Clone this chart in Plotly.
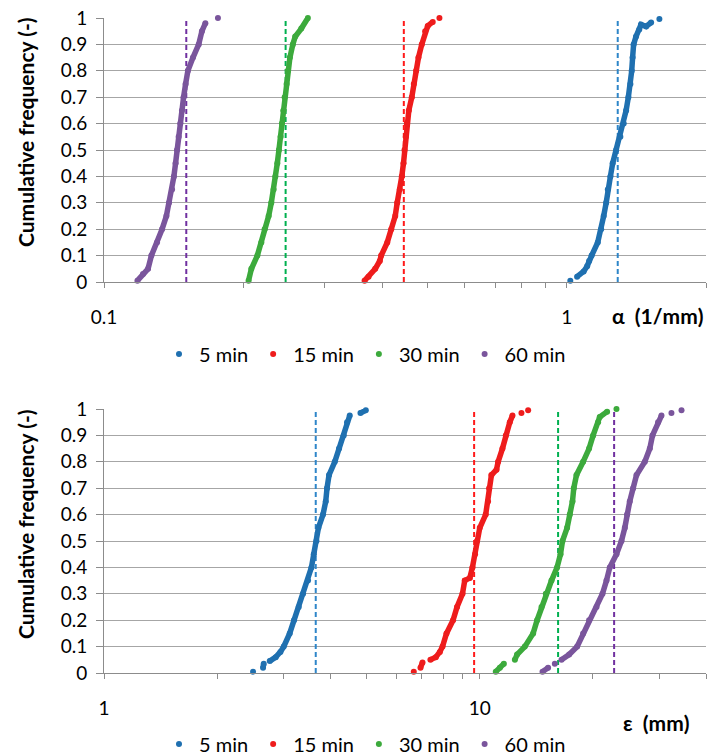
import numpy as np
import plotly.graph_objects as go

# ---------------- data ----------------
series_names = ["5 min", "15 min", "30 min", "60 min"]

# Top panel: alpha (1/mm), cumulative frequency
alpha_5_x = [1.018, 1.053, 1.088, 1.107, 1.118, 1.132, 1.167, 1.187, 1.202, 1.217, 1.227, 1.243, 1.257,
             1.279, 1.306, 1.328, 1.344, 1.359, 1.373, 1.382, 1.388, 1.395, 1.412, 1.435, 1.447, 1.485, 1.522, 1.586]
alpha_5_y = [0.005, 0.02, 0.04, 0.06, 0.08, 0.10, 0.15, 0.20, 0.25, 0.30, 0.35, 0.40, 0.45,
             0.50, 0.55, 0.60, 0.65, 0.70, 0.75, 0.80, 0.85, 0.90, 0.93, 0.956, 0.975, 0.968, 0.983, 0.996]
alpha_15_x = [0.3657, 0.3730, 0.3856, 0.3945, 0.3972, 0.4094, 0.4176, 0.4260, 0.4302, 0.4358, 0.4401, 0.4439,
              0.4461, 0.4490, 0.4512, 0.4558, 0.4626, 0.4672, 0.4727, 0.4782, 0.4861, 0.4944, 0.5008, 0.5134, 0.5308]
alpha_15_y = [0.005, 0.02, 0.05, 0.08, 0.10, 0.15, 0.20, 0.25, 0.30, 0.35, 0.40, 0.45,
              0.50, 0.55, 0.60, 0.65, 0.70, 0.75, 0.80, 0.85, 0.90, 0.95, 0.97, 0.985, 1.0]
alpha_30_x = [0.2053, 0.2082, 0.2145, 0.2188, 0.2224, 0.2269, 0.2299, 0.2326, 0.2346, 0.2369, 0.2388, 0.2408,
              0.2424, 0.2441, 0.2457, 0.2481, 0.2497, 0.2522, 0.2559, 0.2590, 0.2669, 0.2758]
alpha_30_y = [0.005, 0.05, 0.10, 0.15, 0.20, 0.25, 0.30, 0.35, 0.40, 0.45, 0.50, 0.55,
              0.60, 0.65, 0.70, 0.75, 0.80, 0.85, 0.90, 0.93, 0.96, 1.0]
alpha_60_x = [0.1181, 0.1214, 0.1245, 0.1266, 0.1302, 0.1335, 0.1364, 0.1382, 0.1403, 0.1416, 0.1428, 0.1438,
              0.1450, 0.1462, 0.1474, 0.1486, 0.1501, 0.1518, 0.1557, 0.1602, 0.1628, 0.1656, 0.1763]
alpha_60_y = [0.005, 0.03, 0.05, 0.10, 0.15, 0.20, 0.25, 0.30, 0.35, 0.40, 0.45, 0.50,
              0.55, 0.60, 0.65, 0.70, 0.75, 0.80, 0.85, 0.90, 0.95, 0.98, 1.0]
alpha_means = [1.289, 0.4446, 0.2469, 0.1506]

# Bottom panel: epsilon (mm), cumulative frequency
eps_5_x = [2.493, 2.650, 2.661, 2.761, 2.864, 2.948, 3.008, 3.120, 3.204, 3.298, 3.386, 3.491, 3.565, 3.616,
           3.676, 3.721, 3.827, 3.891, 3.922, 3.971, 4.113, 4.222, 4.345, 4.434, 4.508, 4.814, 4.974]
eps_5_y = [0.005, 0.02, 0.035, 0.045, 0.06, 0.08, 0.10, 0.15, 0.20, 0.25, 0.30, 0.35, 0.40, 0.45,
           0.50, 0.55, 0.60, 0.65, 0.70, 0.75, 0.80, 0.85, 0.90, 0.95, 0.975, 0.985, 0.995]
eps_15_x = [6.674, 6.954, 7.04, 7.39, 7.64, 7.83, 7.96, 8.155, 8.49, 8.70, 8.995, 9.12, 9.41, 9.56, 9.716,
            9.83, 10.0, 10.37, 10.52, 10.59, 10.74, 11.08, 11.19, 11.49, 11.73, 12.02, 12.22, 12.91, 13.45]
eps_15_y = [0.005, 0.02, 0.04, 0.05, 0.06, 0.08, 0.10, 0.15, 0.20, 0.25, 0.30, 0.35, 0.36, 0.40, 0.45,
            0.50, 0.55, 0.60, 0.65, 0.70, 0.75, 0.77, 0.80, 0.85, 0.90, 0.95, 0.975, 0.985, 0.995]
eps_30_x = [11.03, 11.31, 11.59, 12.40, 12.57, 13.18, 13.87, 14.21, 14.60, 14.99, 15.52, 16.06, 16.40, 16.60,
            17.08, 17.36, 17.65, 17.79, 18.09, 18.84, 19.54, 20.03, 20.65, 20.86, 21.82, 23.11]
eps_30_y = [0.005, 0.02, 0.035, 0.05, 0.07, 0.10, 0.15, 0.20, 0.25, 0.30, 0.35, 0.40, 0.45, 0.50,
            0.55, 0.60, 0.65, 0.70, 0.75, 0.80, 0.85, 0.90, 0.95, 0.97, 0.99, 1.0]
eps_60_x = [14.69, 15.20, 15.84, 16.50, 17.29, 18.16, 18.84, 19.54, 20.45, 21.21, 21.74, 22.18, 23.11, 23.83,
            24.32, 24.66, 25.07, 25.59, 26.13, 27.49, 28.35, 28.82, 29.82, 30.45, 32.37, 34.43]
eps_60_y = [0.005, 0.02, 0.035, 0.05, 0.07, 0.10, 0.15, 0.20, 0.25, 0.30, 0.35, 0.40, 0.45, 0.50,
            0.55, 0.60, 0.65, 0.70, 0.75, 0.80, 0.85, 0.90, 0.95, 0.975, 0.985, 0.995]
eps_means = [3.66, 9.66, 16.16, 22.78]

y_ticks = [0, 0.1, 0.2, 0.3, 0.4, 0.5, 0.6, 0.7, 0.8, 0.9, 1]
y_ticktext = ["0", "0.1", "0.2", "0.3", "0.4", "0.5", "0.6", "0.7", "0.8", "0.9", "1"]
top_x_ticks = [0.1, 1]
top_x_ticktext = ["0.1", "1"]
top_x_minor = [0.2, 0.3, 0.4, 0.5, 0.6, 0.7, 0.8, 0.9, 2]
bot_x_ticks = [1, 10]
bot_x_ticktext = ["1", "10"]
bot_x_minor = [2, 3, 4, 5, 6, 7, 8, 9, 20, 30, 40]

# ---------------- styling ----------------
marker_colors = ["#1f70b0", "#ee1c1c", "#3caa3c", "#7a559c"]
dash_colors = ["#2e86c9", "#ff1a1a", "#00b050", "#7030a0"]
FONT = "Lato"
GRID = "#a6a6a6"
AXIS = "#8c8c8c"

W, H = 707, 755
ML, MR, MT, MB = 104, 1, 18, 82
PW, PH = W - ML - MR, H - MT - MB


def py2paper(py):
    return (H - MB - py) / PH


def px2paper(px):
    return (px - ML) / PW


def core_line(xs, ys, decade_px, unit_px):
    """Connect consecutive dots that sit close together (dense part of the curve)."""
    lx, ly = [], []
    for i in range(len(xs)):
        if i > 0:
            dx = abs(np.log10(xs[i] / xs[i - 1])) * decade_px
            dy = abs(ys[i] - ys[i - 1]) * unit_px
            if dx > 6 and dx > 1.5 * dy:
                lx.append(None)
                ly.append(None)
        lx.append(xs[i])
        ly.append(ys[i])
    return lx, ly


fig = go.Figure()

top_data = [(alpha_5_x, alpha_5_y), (alpha_15_x, alpha_15_y), (alpha_30_x, alpha_30_y), (alpha_60_x, alpha_60_y)]
bot_data = [(eps_5_x, eps_5_y), (eps_15_x, eps_15_y), (eps_30_x, eps_30_y), (eps_60_x, eps_60_y)]

top_ydom = [py2paper(282), 1.0]
bot_ydom = [0.0, py2paper(409)]
top_decade = PW / (np.log10(2) + 1)
bot_decade = PW / np.log10(40)
unit_px = PH * (top_ydom[1] - top_ydom[0])

for panel, data, means, xa, ya, leg, dec in [
    ("top", top_data, alpha_means, "x", "y", "legend", top_decade),
    ("bot", bot_data, eps_means, "x2", "y2", "legend2", bot_decade),
]:
    # dashed mean lines
    for i, m in enumerate(means):
        fig.add_trace(go.Scatter(x=[m, m], y=[0, 0.99], mode="lines", xaxis=xa, yaxis=ya,
                                 line=dict(color=dash_colors[i], width=2, dash="5px,3px"),
                                 showlegend=False, hoverinfo="skip"))
    for i, (xs, ys) in enumerate(data):
        lx, ly = core_line(xs, ys, dec, unit_px)
        fig.add_trace(go.Scatter(x=lx, y=ly, mode="lines", xaxis=xa, yaxis=ya,
                                 line=dict(color=marker_colors[i], width=5.5),
                                 showlegend=False, hoverinfo="skip", cliponaxis=False,
                                 connectgaps=False))
        fig.add_trace(go.Scatter(x=xs, y=ys, mode="markers", xaxis=xa, yaxis=ya,
                                 name=series_names[i], legend=leg,
                                 marker=dict(color=marker_colors[i], size=6),
                                 cliponaxis=False))

axis_font = dict(family=FONT, size=19, color="#000000")

common_y = dict(range=[0, 1], tickvals=y_ticks, ticktext=y_ticktext, showgrid=True, gridcolor=GRID,
                gridwidth=1, zeroline=False, showline=True, linecolor=AXIS, linewidth=1,
                ticks="outside", ticklen=7, tickcolor=AXIS, tickfont=axis_font, ticklabelstandoff=5)

fig.update_layout(
    width=W, height=H,
    margin=dict(l=ML, r=MR, t=MT, b=MB, autoexpand=False),
    paper_bgcolor="white", plot_bgcolor="white",
    font=dict(family=FONT, size=19, color="#000000"),
    xaxis=dict(type="log", range=[-1, np.log10(2)], domain=[0, 1], anchor="y",
               tickvals=top_x_ticks, ticktext=top_x_ticktext, showgrid=False, zeroline=False,
               showline=True, linecolor=AXIS, ticks="outside", ticklen=5, tickcolor=AXIS,
               tickfont=axis_font, ticklabelstandoff=13,
               minor=dict(tickvals=top_x_minor, ticks="outside", ticklen=5, tickcolor=AXIS, showgrid=False)),
    yaxis=dict(domain=top_ydom, anchor="x", **common_y),
    xaxis2=dict(type="log", range=[0, np.log10(40)], domain=[0, 1], anchor="y2",
                tickvals=bot_x_ticks, ticktext=bot_x_ticktext, showgrid=False, zeroline=False,
                showline=True, linecolor=AXIS, ticks="outside", ticklen=5, tickcolor=AXIS,
                tickfont=axis_font, ticklabelstandoff=13,
                minor=dict(tickvals=bot_x_minor, ticks="outside", ticklen=5, tickcolor=AXIS, showgrid=False)),
    yaxis2=dict(domain=bot_ydom, anchor="x2", **common_y),
    legend=dict(orientation="h", x=px2paper(365), xanchor="center", y=py2paper(354), yanchor="middle",
                font=dict(family=FONT, size=20), bgcolor="rgba(0,0,0,0)", itemwidth=30),
    legend2=dict(orientation="h", x=px2paper(365), xanchor="center", y=py2paper(744), yanchor="middle",
                 font=dict(family=FONT, size=20), bgcolor="rgba(0,0,0,0)", itemwidth=30),
    showlegend=True,
)

annots = [
    dict(text="<b>α  (1/mm)</b>", x=1.0, xanchor="right", y=py2paper(315), yanchor="middle"),
    dict(text="<b>ε  (mm)</b>", x=px2paper(692), xanchor="right", y=py2paper(723), yanchor="middle"),
    dict(text="<b>Cumulative frequency (-)</b>", x=px2paper(25), xanchor="center", y=py2paper(132),
         yanchor="middle", textangle=-90),
    dict(text="<b>Cumulative frequency (-)</b>", x=px2paper(25), xanchor="center", y=py2paper(524),
         yanchor="middle", textangle=-90),
]
for a in annots:
    fig.add_annotation(xref="paper", yref="paper", showarrow=False,
                       font=dict(family=FONT, size=21, color="#000000"), **a)

fig.write_html("out.html")
